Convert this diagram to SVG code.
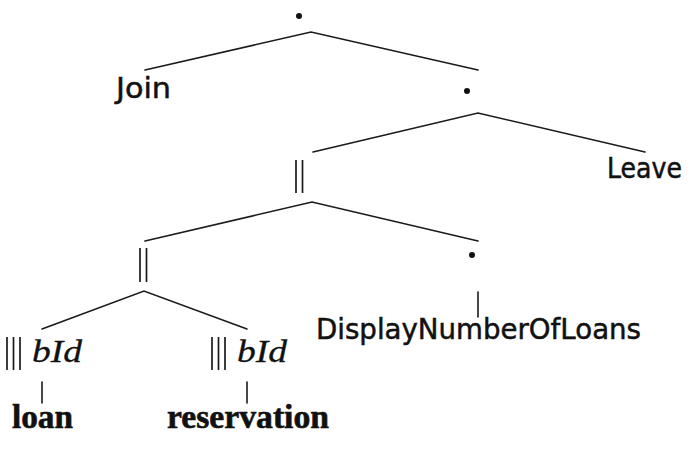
<svg xmlns="http://www.w3.org/2000/svg" width="697" height="461" viewBox="0 0 697 461">
  <style>
    .edge { fill: none; stroke: #1a1a1a; stroke-width: 1.6; stroke-linecap: round; }
    .bar { stroke: #1a1a1a; stroke-width: 1.7; }
    .dot { fill: #111; }
    .sans { font-family: "DejaVu Sans", "Liberation Sans", sans-serif; font-size: 28px; fill: #111; stroke: #111; stroke-width: 0.5; }
    .math { font-family: "Liberation Serif", serif; font-style: italic; font-size: 31px; fill: #111; stroke: #111; stroke-width: 0.3; }
    .rel { font-family: "Liberation Serif", serif; font-weight: bold; font-size: 33px; fill: #111; stroke: #111; stroke-width: 0.6; }
  </style>
  <rect width="697" height="461" fill="#fff"/>

  <!-- tree edges -->
  <g id="connectors">
    <polyline class="edge" points="145,70 311,32 478,70"/>
    <polyline class="edge" points="313,152 478,113 645,152"/>
    <polyline class="edge" points="145,241 312,202 478,241"/>
    <polyline class="edge" points="42,329 144,291 247,329"/>
    <line class="edge" x1="478" y1="292" x2="478" y2="317"/>
    <line class="edge" x1="42" y1="382" x2="42" y2="403"/>
    <line class="edge" x1="247" y1="382" x2="247" y2="403"/>
  </g>

  <!-- sequential composition, root -->
  <g id="seq-root">
    <circle class="dot" cx="299" cy="16" r="3"/>
  </g>
  <g id="join">
    <text class="sans" x="116" y="98" textLength="55" lengthAdjust="spacingAndGlyphs">Join</text>
  </g>
  <!-- sequential composition, inner -->
  <g id="seq-inner">
    <circle class="dot" cx="467" cy="91" r="3"/>
  </g>
  <g id="leave">
    <text class="sans" x="607" y="178" textLength="75" lengthAdjust="spacingAndGlyphs">Leave</text>
  </g>
  <!-- parallel composition, upper -->
  <g id="par-upper">
    <line class="bar" x1="296" y1="160" x2="296" y2="193"/>
    <line class="bar" x1="302.5" y1="160" x2="302.5" y2="193"/>
  </g>
  <!-- parallel composition, lower -->
  <g id="par-lower">
    <line class="bar" x1="140" y1="248" x2="140" y2="282"/>
    <line class="bar" x1="146.5" y1="248" x2="146.5" y2="282"/>
  </g>
  <!-- sequential composition over the display action -->
  <g id="seq-display">
    <circle class="dot" cx="472" cy="255" r="3"/>
  </g>
  <g id="display">
    <text class="sans" x="316" y="339" textLength="325" lengthAdjust="spacingAndGlyphs">DisplayNumberOfLoans</text>
  </g>
  <!-- interleaving over bId, left -->
  <g id="interleave-loan">
    <line class="bar" x1="7" y1="337" x2="7" y2="370"/>
    <line class="bar" x1="13.5" y1="337" x2="13.5" y2="370"/>
    <line class="bar" x1="20" y1="337" x2="20" y2="370"/>
    <text class="math" x="32" y="362" textLength="50" lengthAdjust="spacingAndGlyphs">bId</text>
  </g>
  <!-- interleaving over bId, right -->
  <g id="interleave-reservation">
    <line class="bar" x1="212" y1="337" x2="212" y2="370"/>
    <line class="bar" x1="218.5" y1="337" x2="218.5" y2="370"/>
    <line class="bar" x1="225" y1="337" x2="225" y2="370"/>
    <text class="math" x="237" y="362" textLength="50" lengthAdjust="spacingAndGlyphs">bId</text>
  </g>
  <g id="loan">
    <text class="rel" x="12" y="428" textLength="61" lengthAdjust="spacingAndGlyphs">loan</text>
  </g>
  <g id="reservation">
    <text class="rel" x="167" y="428" textLength="162" lengthAdjust="spacingAndGlyphs">reservation</text>
  </g>
</svg>
